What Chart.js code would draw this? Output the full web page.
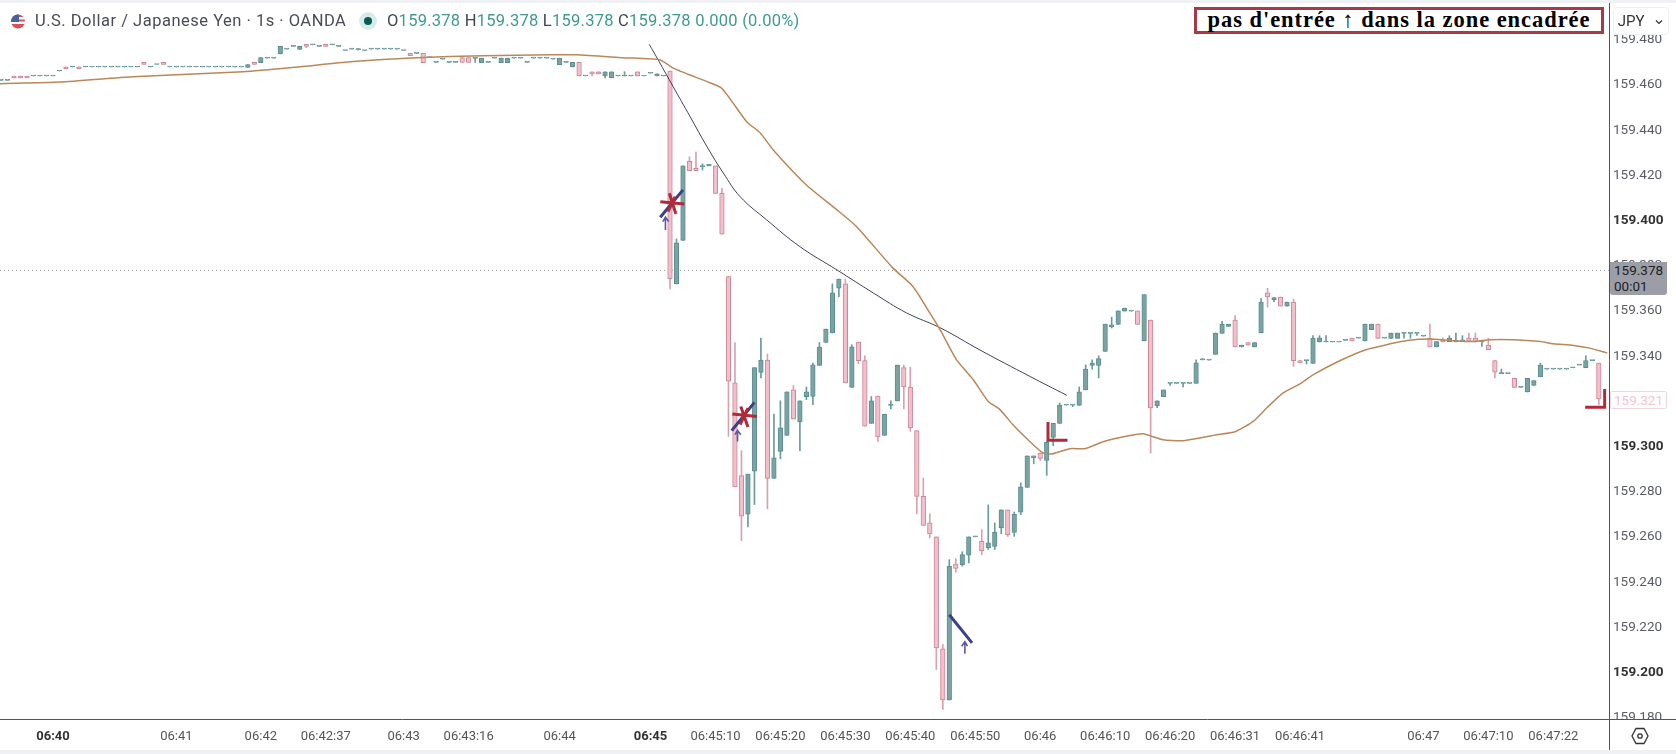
<!DOCTYPE html>
<html><head><meta charset="utf-8">
<script src="https://cdn.jsdelivr.net/npm/chart.js@4/dist/chart.umd.min.js"></script>
<style>
html,body{margin:0;padding:0;background:#fff;width:1676px;height:754px;overflow:hidden;font-family:Roboto,sans-serif}
canvas{position:absolute;left:0;top:0}
.o{position:absolute;white-space:nowrap}
#legend{left:35px;top:11px;font-size:16.5px;line-height:20px;color:#4a4d57;letter-spacing:.5px}
#ohlc{left:387px;top:11px;font-size:16.5px;line-height:20px;color:#3f9a90;letter-spacing:.25px}
#ohlc b{font-weight:400;color:#3d4a55}
#note{left:1194px;top:7px;width:404px;height:21px;border:3px solid #a83a45;text-align:center;font:bold 22.5px/19px "Liberation Serif",serif;color:#000;letter-spacing:.95px;background:#fff}
#jpy{left:1613px;top:7px;width:54px;height:26px;border:1px solid #eef0f3;border-radius:4px;background:#fff;font-size:15px;line-height:26px;color:#333;padding-left:0}
#tag{left:1610px;top:262px;width:57px;height:33px;background:#9b9da7;border-radius:0 0 3px 3px;font-size:13.5px;line-height:16px;color:#222;padding:0 0 0 4px;box-sizing:border-box}
#pink{left:1610px;top:391px;width:57px;height:18px;box-sizing:border-box;border:1px solid #efd9de;border-radius:2px;background:#fff;font-size:13.5px;line-height:16px;color:#f1c6d0;text-align:center}
</style></head><body>
<canvas id="c" width="1676" height="754"></canvas>
<div class="o" style="left:0;top:0;width:1676px;height:3px;background:#eff1f5"></div>
<div class="o" style="left:0;top:750px;width:1676px;height:4px;background:#eff1f5"></div>
<div class="o" style="left:1610px;top:720px;width:66px;height:30px;background:#fff"></div>
<div class="o" style="left:1609px;top:719px;width:1px;height:31px;background:#555"></div>
<div class="o" style="left:1609px;top:719px;width:67px;height:1px;background:#555"></div>
<svg class="o" style="left:10px;top:13px" width="16" height="17" viewBox="0 0 16 17">
<defs><clipPath id="f"><circle cx="8" cy="8.5" r="7"/></clipPath></defs>
<g clip-path="url(#f)"><rect width="16" height="17" fill="#fff"/><rect y="1" width="16" height="3" fill="#d9505c"/><rect y="6.5" width="16" height="2" fill="#d9505c"/><rect y="11" width="16" height="5" fill="#d9505c"/><rect x="1" y="1" width="8" height="8" fill="#47639c"/></g></svg>
<div class="o" id="legend">U.S. Dollar / Japanese Yen · 1s · OANDA</div>
<svg class="o" style="left:358px;top:11px" width="20" height="20"><circle cx="10" cy="10" r="9" fill="#d6ecea"/><circle cx="10" cy="10" r="4" fill="#0b5c50"/></svg>
<div class="o" id="ohlc"><b>O</b>159.378 <b>H</b>159.378 <b>L</b>159.378 <b>C</b>159.378 0.000 (0.00%)</div>
<div class="o" id="note">pas d'entrée ↑ dans la zone encadrée</div>
<div class="o" id="jpy">&nbsp;JPY <svg width="10" height="8" style="margin-left:6px"><path d="M2 2.5 L5 5.5 L8 2.5" fill="none" stroke="#333" stroke-width="1.2"/></svg></div>
<div class="o" id="tag">159.378<br>00:01</div>
<div class="o" id="pink">159.321</div>
<svg class="o" style="left:1631px;top:726px" width="18" height="20" viewBox="0 0 18 20"><path d="M5 2.5 H13 L17 10 L13 17.5 H5 L1 10 Z" fill="none" stroke="#333" stroke-width="1.3"/><circle cx="9" cy="10" r="2.2" fill="none" stroke="#333" stroke-width="1.3"/></svg>
<script>
const opens=[159.4621,159.4621,159.4640,159.4640,159.4640,159.4640,159.4640,159.4640,159.4640,159.4662,
159.4681,159.4680,159.4681,159.4680,159.4680,159.4680,159.4680,159.4680,159.4680,159.4680,
159.4680,159.4680,159.4700,159.4680,159.4691,159.4700,159.4680,159.4680,159.4680,159.4680,
159.4680,159.4680,159.4680,159.4680,159.4680,159.4680,159.4680,159.4680,159.4678,159.4700,
159.4699,159.4719,159.4719,159.4738,159.4759,159.4771,159.4758,159.4780,159.4778,159.4771,
159.4780,159.4778,159.4771,159.4753,159.4759,159.4755,159.4753,159.4759,159.4759,159.4759,
159.4759,159.4759,159.4753,159.4740,159.4740,159.4740,159.4721,159.4700,159.4714,159.4700,
159.4700,159.4721,159.4721,159.4718,159.4699,159.4700,159.4719,159.4699,159.4699,159.4719,
159.4719,159.4700,159.4719,159.4719,159.4719,159.4714,159.4690,159.4700,159.4680,159.4700,
159.4640,159.4659,159.4659,159.4640,159.4632,159.4640,159.4640,159.4640,159.4659,159.4640,
159.4652,159.4640,159.4640,159.4662,159.3720,159.3912,159.4263,159.4232,159.4239,159.4242,
159.4242,159.4121,159.3753,159.3282,159.2872,159.2701,159.2891,159.3328,159.3383,159.2860,
159.2979,159.3050,159.3251,159.3109,159.3221,159.3222,159.3359,159.3461,159.3503,159.3701,
159.3720,159.3262,159.3463,159.3381,159.3103,159.3224,159.3050,159.3183,159.3202,159.3350,
159.3264,159.3071,159.2780,159.2663,159.2601,159.2106,159.1879,159.2481,159.2478,159.2520,
159.2601,159.2581,159.2552,159.2559,159.2641,159.2720,159.2621,159.2710,159.2820,159.2951,
159.2972,159.2939,159.3041,159.3103,159.3184,159.3184,159.3183,159.3251,159.3359,159.3359,
159.3421,159.3530,159.3541,159.3600,159.3600,159.3601,159.3468,159.3560,159.3181,159.3221,
159.3280,159.3280,159.3280,159.3280,159.3280,159.3384,159.3383,159.3408,159.3501,159.3532,
159.3560,159.3441,159.3461,159.3441,159.3503,159.3681,159.3650,159.3662,159.3622,159.3640,
159.3381,159.3381,159.3368,159.3463,159.3463,159.3463,159.3463,159.3470,159.3480,159.3480,
159.3468,159.3518,159.3542,159.3480,159.3479,159.3479,159.3501,159.3501,159.3501,159.3489,
159.3480,159.3441,159.3472,159.3465,159.3463,159.3468,159.3480,159.3480,159.3465,159.3449,
159.3381,159.3323,159.3323,159.3302,159.3262,159.3242,159.3271,159.3309,159.3343,159.3343,
159.3343,159.3343,159.3349,159.3361,159.3349,159.3381,159.3370];
const closes=[159.4621,159.4621,159.4631,159.4631,159.4631,159.4640,159.4640,159.4640,159.4640,159.4662,
159.4672,159.4680,159.4672,159.4680,159.4680,159.4680,159.4680,159.4680,159.4680,159.4680,
159.4680,159.4680,159.4691,159.4680,159.4691,159.4691,159.4680,159.4680,159.4680,159.4680,
159.4680,159.4680,159.4680,159.4680,159.4680,159.4680,159.4680,159.4680,159.4691,159.4691,
159.4721,159.4719,159.4719,159.4771,159.4759,159.4771,159.4771,159.4771,159.4778,159.4771,
159.4771,159.4778,159.4771,159.4753,159.4759,159.4761,159.4753,159.4759,159.4759,159.4759,
159.4759,159.4759,159.4753,159.4730,159.4740,159.4699,159.4721,159.4700,159.4714,159.4700,
159.4700,159.4700,159.4700,159.4718,159.4719,159.4700,159.4719,159.4719,159.4719,159.4719,
159.4719,159.4700,159.4719,159.4719,159.4719,159.4714,159.4719,159.4700,159.4700,159.4640,
159.4640,159.4649,159.4649,159.4659,159.4659,159.4640,159.4640,159.4640,159.4640,159.4640,
159.4652,159.4650,159.4640,159.3743,159.3902,159.4242,159.4221,159.4221,159.4239,159.4249,
159.4121,159.3940,159.3290,159.2822,159.2692,159.2879,159.3350,159.3383,159.2860,159.2951,
159.3083,159.3243,159.3122,159.3203,159.3243,159.3362,159.3441,159.3520,159.3681,159.3741,
159.3282,159.3442,159.3381,159.3091,159.3203,159.3043,159.3143,159.3183,159.3361,159.3264,
159.3083,159.2780,159.2652,159.2614,159.2110,159.1879,159.2471,159.2461,159.2523,159.2601,
159.2601,159.2540,159.2574,159.2621,159.2720,159.2611,159.2701,159.2822,159.2959,159.2959,
159.2948,159.3019,159.3103,159.3184,159.3184,159.3184,159.3243,159.3343,159.3370,159.3390,
159.3542,159.3539,159.3601,159.3613,159.3600,159.3541,159.3673,159.3171,159.3203,159.3251,
159.3280,159.3280,159.3280,159.3280,159.3371,159.3384,159.3383,159.3503,159.3542,159.3541,
159.3441,159.3449,159.3449,159.3461,159.3640,159.3662,159.3660,159.3622,159.3640,159.3381,
159.3370,159.3381,159.3480,159.3482,159.3463,159.3463,159.3463,159.3470,159.3468,159.3480,
159.3542,159.3542,159.3479,159.3480,159.3503,159.3503,159.3501,159.3501,159.3501,159.3489,
159.3441,159.3465,159.3463,159.3480,159.3470,159.3468,159.3467,159.3463,159.3465,159.3429,
159.3330,159.3323,159.3323,159.3262,159.3262,159.3302,159.3292,159.3361,159.3343,159.3343,
159.3343,159.3343,159.3349,159.3361,159.3381,159.3381,159.3211];
const highs=[159.4621,159.4621,159.4640,159.4640,159.4640,159.4640,159.4640,159.4640,159.4640,159.4662,
159.4681,159.4680,159.4681,159.4680,159.4680,159.4680,159.4680,159.4680,159.4680,159.4680,
159.4680,159.4680,159.4700,159.4680,159.4691,159.4700,159.4680,159.4680,159.4680,159.4680,
159.4680,159.4680,159.4680,159.4680,159.4680,159.4680,159.4680,159.4680,159.4691,159.4700,
159.4721,159.4719,159.4719,159.4771,159.4759,159.4771,159.4771,159.4780,159.4778,159.4771,
159.4780,159.4778,159.4771,159.4753,159.4759,159.4761,159.4753,159.4759,159.4759,159.4759,
159.4759,159.4759,159.4753,159.4740,159.4740,159.4740,159.4721,159.4700,159.4714,159.4700,
159.4700,159.4721,159.4721,159.4718,159.4719,159.4700,159.4719,159.4719,159.4719,159.4719,
159.4719,159.4700,159.4719,159.4719,159.4719,159.4714,159.4719,159.4700,159.4700,159.4700,
159.4640,159.4659,159.4659,159.4659,159.4659,159.4640,159.4659,159.4640,159.4659,159.4640,
159.4652,159.4650,159.4640,159.4662,159.3919,159.4242,159.4283,159.4303,159.4251,159.4249,
159.4242,159.4143,159.3753,159.3461,159.2982,159.2879,159.3350,159.3480,159.3410,159.3144,
159.3203,159.3243,159.3270,159.3203,159.3264,159.3370,159.3461,159.3520,159.3720,159.3741,
159.3741,159.3451,159.3463,159.3402,159.3222,159.3224,159.3143,159.3203,159.3361,159.3361,
159.3352,159.3071,159.2862,159.2703,159.2601,159.2125,159.2500,159.2505,159.2535,159.2601,
159.2601,159.2633,159.2742,159.2663,159.2720,159.2720,159.2711,159.2840,159.2959,159.2959,
159.2972,159.3023,159.3103,159.3193,159.3184,159.3184,159.3264,159.3362,159.3384,159.3402,
159.3542,159.3573,159.3601,159.3613,159.3600,159.3601,159.3673,159.3560,159.3203,159.3251,
159.3280,159.3280,159.3280,159.3280,159.3384,159.3390,159.3383,159.3503,159.3554,159.3541,
159.3580,159.3449,159.3461,159.3461,159.3655,159.3701,159.3660,159.3662,159.3640,159.3653,
159.3381,159.3381,159.3491,159.3491,159.3491,159.3463,159.3463,159.3470,159.3480,159.3480,
159.3542,159.3542,159.3542,159.3480,159.3503,159.3503,159.3501,159.3501,159.3501,159.3489,
159.3542,159.3465,159.3480,159.3491,159.3503,159.3491,159.3503,159.3503,159.3465,159.3480,
159.3381,159.3343,159.3323,159.3302,159.3262,159.3302,159.3292,159.3370,159.3343,159.3343,
159.3343,159.3343,159.3349,159.3361,159.3402,159.3381,159.3370];
const lows=[159.4621,159.4621,159.4631,159.4631,159.4631,159.4640,159.4640,159.4640,159.4640,159.4662,
159.4672,159.4680,159.4672,159.4680,159.4680,159.4680,159.4680,159.4680,159.4680,159.4680,
159.4680,159.4680,159.4691,159.4680,159.4691,159.4691,159.4680,159.4680,159.4680,159.4680,
159.4680,159.4680,159.4680,159.4680,159.4680,159.4680,159.4680,159.4680,159.4678,159.4691,
159.4699,159.4719,159.4719,159.4738,159.4759,159.4771,159.4758,159.4765,159.4778,159.4771,
159.4771,159.4778,159.4771,159.4753,159.4759,159.4755,159.4753,159.4759,159.4759,159.4759,
159.4759,159.4759,159.4753,159.4730,159.4740,159.4699,159.4721,159.4700,159.4714,159.4700,
159.4700,159.4700,159.4700,159.4700,159.4699,159.4700,159.4719,159.4699,159.4699,159.4719,
159.4719,159.4700,159.4719,159.4719,159.4719,159.4714,159.4690,159.4700,159.4680,159.4640,
159.4640,159.4640,159.4649,159.4632,159.4632,159.4640,159.4640,159.4640,159.4640,159.4640,
159.4652,159.4640,159.4640,159.3698,159.3720,159.3912,159.4221,159.4221,159.4224,159.4242,
159.4121,159.3940,159.3045,159.2822,159.2584,159.2645,159.2744,159.3304,159.2725,159.2860,
159.2946,159.3050,159.3122,159.2982,159.3208,159.3186,159.3359,159.3461,159.3503,159.3664,
159.3282,159.3262,159.3367,159.3091,159.3103,159.3023,159.3050,159.3167,159.3202,159.3167,
159.3068,159.2703,159.2652,159.2596,159.2014,159.1837,159.1879,159.2444,159.2471,159.2486,
159.2601,159.2523,159.2545,159.2545,159.2615,159.2603,159.2603,159.2699,159.2820,159.2924,
159.2939,159.2873,159.3004,159.3103,159.3184,159.3177,159.3183,159.3251,159.3343,159.3304,
159.3421,159.3525,159.3541,159.3600,159.3600,159.3541,159.3468,159.2972,159.3172,159.3221,
159.3271,159.3280,159.3264,159.3280,159.3280,159.3384,159.3383,159.3408,159.3501,159.3532,
159.3441,159.3441,159.3449,159.3441,159.3503,159.3617,159.3642,159.3622,159.3622,159.3355,
159.3370,159.3366,159.3368,159.3463,159.3463,159.3463,159.3463,159.3470,159.3468,159.3480,
159.3468,159.3518,159.3479,159.3480,159.3479,159.3479,159.3480,159.3480,159.3492,159.3489,
159.3441,159.3441,159.3463,159.3465,159.3463,159.3468,159.3467,159.3463,159.3443,159.3429,
159.3304,159.3323,159.3323,159.3262,159.3262,159.3242,159.3271,159.3309,159.3343,159.3343,
159.3343,159.3343,159.3349,159.3361,159.3349,159.3381,159.3186];

const timeLabels=["06:40","06:41","06:42","06:42:37","06:43","06:43:16","06:44","06:45","06:45:10","06:45:20","06:45:30","06:45:40","06:45:50","06:46","06:46:10","06:46:20","06:46:31","06:46:41","06:47","06:47:10","06:47:22"];
const timeBars=[8,27,40,50,62,72,86,100,110,120,130,140,150,160,170,180,190,200,219,229,239];
const boldTimes=["06:40","06:45"];
const priceTicks=[159.18,159.20,159.22,159.24,159.26,159.28,159.30,159.32,159.34,159.36,159.38,159.40,159.42,159.44,159.46,159.48];
const boldPrices=[159.20,159.30,159.40];
const lastPrice=159.378;
const firstBar=-0.154, lastBar=247.57;
const priceMin=159.1795, priceMax=159.4963;

const maBars=[-0.154,9.08,20.3,37.3,46,53.7,64,74.2,84.5,88.6,95.8,101.5,103.5,108.7,111,114.8,116.9,118.9,124,128.7,131.7,137.3,140.4,143,144.6,147.1,149.7,152,153.8,155.8,158.4,160.4,161.8,164.6,166.9,169.7,173.8,175.8,178.9,181.8,187.2,190,192.8,194.9,197.4,200,202,206.2,210,213.9,216.5,220,223.1,226.6,229.3,232.8,237,239,242.1,244.6,247.3];
const maValues=[159.4606,159.4613,159.4637,159.4659,159.4681,159.4703,159.4721,159.4730,159.4734,159.4734,159.4721,159.4711,159.4675,159.4615,159.4585,159.4438,159.4388,159.4313,159.4158,159.4048,159.3974,159.3791,159.3709,159.3592,159.3517,159.3385,159.3296,159.3200,159.3164,159.3097,159.3023,159.2973,159.2968,159.2991,159.2991,159.3022,159.3049,159.3057,159.3031,159.3026,159.3053,159.3066,159.3112,159.3172,159.3238,159.3278,159.3318,159.3381,159.3428,159.3455,159.3470,159.3476,159.3470,159.3465,159.3473,159.3473,159.3465,159.3455,159.3448,159.3436,159.3415];
const curveBars=[99.8,101.2,103.5,106.1,108.7,111.2,113.8,117.9,123,128.7,134.3,139.4,144.6,150.7,158.4,164.1];
const curveValues=[159.4780,159.4710,159.4592,159.4460,159.4327,159.4211,159.4106,159.4003,159.3885,159.3782,159.3680,159.3592,159.3526,159.3428,159.3311,159.3227];
const blueBars=[101.5,105,null,112.5,116,null,146,149.5];
const blueValues=[159.4015,159.4136,null,159.3071,159.3196,null,159.2256,159.2132];
const redBars=[101.5,105.2,null,102.9,103.9,null,102.7,103.8,null,112.6,116.4,null,113.9,115,null,113.8,115,null,161.2,161.2,164.2,null,246.9,246.9,243.9];
const redValues=[159.4084,159.4074,null,159.4121,159.4030,null,159.4040,159.4106,null,159.3144,159.3133,null,159.3178,159.3087,null,159.3097,159.3171,null,159.3109,159.3028,159.3028,null,159.3255,159.3174,159.3174];
const arrowBars=[102.3,102.3,null,101.9,102.3,102.8,null,113.4,113.4,null,113,113.4,113.9,null,148.4,148.4,null,147.9,148.4,148.8];
const arrowValues=[159.3959,159.4015,null,159.3996,159.4015,159.3996,null,159.3023,159.3072,null,159.3053,159.3072,159.3053,null,159.2084,159.2137,null,159.2117,159.2137,159.2117];

const UP='#7aa3a4',UPB='#5c8e8f',DN='#f3bfcb',DNB='#c98797',UPW='#6b9a9a',DNW='#d6a2ae';
const isUp=opens.map((o,i)=>closes[i]>=o);
const pts=(xs,ys)=>xs.map((x,i)=>({x:x,y:ys[i]}));
const lineDs=(xs,ys,color,width,order,tension)=>({type:'line',data:pts(xs,ys),borderColor:color,borderWidth:width,pointRadius:0,tension:tension||0,spanGaps:false,order:order,borderCapStyle:'butt'});
const isBoldTime=c=>!!c.tick&&boldTimes.includes(timeLabels[timeBars.indexOf(c.tick.value)]);
const isBoldPrice=c=>!!c.tick&&boldPrices.includes(c.tick.value);

new Chart(document.getElementById('c'),{
 data:{datasets:[
  lineDs(blueBars,blueValues,'#3d3f88',3,1),
  lineDs(redBars,redValues,'#b02a3a',3,0),
  lineDs(arrowBars,arrowValues,'#5b58a8',1.6,1),
  lineDs(maBars,maValues,'#b8885a',1.5,2,0.2),
  lineDs(curveBars,curveValues,'#2a2f48',0.9,2,0.4),
  Object.assign(lineDs([firstBar,lastBar],[lastPrice,lastPrice],'#9a9a9a',1,5),{borderDash:[1,3]}),
  {type:'bar',data:opens.map((o,i)=>({x:i,y:[o,closes[i]]})),barThickness:4.6,minBarLength:1,grouped:false,
   backgroundColor:isUp.map(u=>u?UP:DN),borderColor:isUp.map(u=>u?UPB:DNB),borderWidth:1,borderSkipped:false,order:3},
  {type:'bar',data:opens.map((o,i)=>({x:i,y:[lows[i],highs[i]]})),barThickness:1,grouped:false,
   backgroundColor:isUp.map(u=>u?UPW:DNW),borderWidth:0,order:4}
 ]},
 options:{
  responsive:false,animation:false,events:[],
  layout:{padding:{left:0,right:0,top:3,bottom:0}},
  plugins:{legend:{display:false},tooltip:{enabled:false}},
  scales:{
   x:{type:'linear',min:firstBar,max:lastBar,offset:false,
    grid:{display:false,drawTicks:false},border:{display:true,color:'#555',width:1},
    afterBuildTicks:s=>{s.ticks=timeBars.map(v=>({value:v}));},
    afterFit:s=>{s.height=35;s.paddingLeft=0;s.paddingRight=0;},
    ticks:{autoSkip:false,maxRotation:0,minRotation:0,padding:10,color:c=>isBoldTime(c)?'#333':'#555',
     font:c=>({family:'Roboto',size:13,weight:isBoldTime(c)?'bold':'normal'}),
     callback:v=>timeLabels[timeBars.indexOf(v)]}
   },
   y:{type:'linear',position:'right',min:priceMin,max:priceMax,
    grid:{display:false,drawTicks:false},border:{display:true,color:'#555',width:1},
    afterBuildTicks:s=>{s.ticks=priceTicks.map(v=>({value:v}));},
    afterFit:s=>{s.width=67;s.paddingTop=0;s.paddingBottom=0;},
    ticks:{autoSkip:false,padding:4,color:c=>isBoldPrice(c)?'#333':'#5a5d66',
     font:c=>({family:'Roboto',size:13.5,weight:isBoldPrice(c)?'bold':'normal'}),
     callback:v=>v.toFixed(3)}
   }
  }
 }
});
</script>
</body></html>
